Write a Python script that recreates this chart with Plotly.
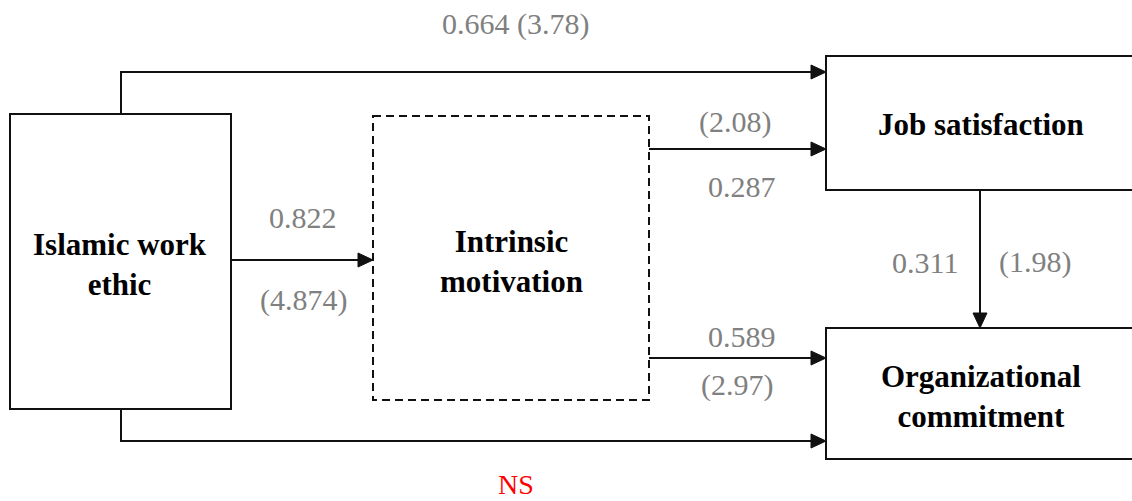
import plotly.graph_objects as go

# ---- data ----
node_labels = ["Islamic work<br>ethic", "Intrinsic<br>motivation", "Job satisfaction", "Organizational<br>commitment"]
path_coefs = ["0.664 (3.78)", "(2.08)", "0.287", "0.822", "(4.874)", "0.311", "(1.98)", "0.589", "(2.97)"]
ns_label = "NS"

# ---- layout geometry (pixels) ----
W, H = 1132, 501
boxes = [  # x0, y0, x1, y1, dashed
    (10, 114, 231, 409, False),
    (373, 116, 649, 400, True),
    (826, 56, 1140, 190, False),
    (826, 328, 1140, 459, False),
]
node_pos = [(120, 264), (511, 261), (981, 124), (981, 396)]
coef_pos = [(515, 24), (735, 122), (742, 186), (303, 217), (303, 300),
            (925, 262), (1035, 262), (742, 336), (737, 385)]
ns_pos = (516, 501)

# polylines ending with an arrowhead
paths = [
    [(121, 114), (121, 72), (826, 72)],
    [(649, 149), (826, 149)],
    [(231, 260), (373, 260)],
    [(980, 190), (980, 328)],
    [(649, 358), (826, 358)],
    [(121, 409), (121, 441), (826, 441)],
]

FONT = "Times New Roman, Liberation Serif, serif"

fig = go.Figure()
shapes = []
LC = "#111111"
for x0, y0, x1, y1, dashed in boxes:
    shapes.append(dict(type="rect", x0=x0, y0=y0, x1=x1, y1=y1,
                       line=dict(color=LC, width=2, dash="8px,5px" if dashed else "solid"),
                       fillcolor="rgba(0,0,0,0)"))

AL, AW = 15, 7
for pts in paths:
    (xa, ya), (xb, yb) = pts[-2], pts[-1]
    if xa == xb:
        d = 1 if yb > ya else -1
        end = (xb, yb - d * AL)
        tri = f"M {xb},{yb} L {xb-AW},{yb-d*AL} L {xb+AW},{yb-d*AL} Z"
    else:
        d = 1 if xb > xa else -1
        end = (xb - d * AL, yb)
        tri = f"M {xb},{yb} L {xb-d*AL},{yb-AW} L {xb-d*AL},{yb+AW} Z"
    line_pts = pts[:-1] + [end]
    p = "M " + " L ".join(f"{x},{y}" for x, y in line_pts)
    shapes.append(dict(type="path", path=p, line=dict(color=LC, width=2)))
    shapes.append(dict(type="path", path=tri, line=dict(color=LC, width=1), fillcolor=LC))

annotations = []
for lab, (x, y) in zip(node_labels, node_pos):
    annotations.append(dict(x=x, y=y, text=f"<b>{lab}</b>", showarrow=False,
                            font=dict(family=FONT, size=31, color="#000000"),
                            xanchor="center", yanchor="middle"))
for lab, (x, y) in zip(path_coefs, coef_pos):
    annotations.append(dict(x=x, y=y, text=lab, showarrow=False,
                            font=dict(family=FONT, size=30, color="#808080"),
                            xanchor="center", yanchor="middle"))
annotations.append(dict(x=ns_pos[0], y=ns_pos[1], text=ns_label, showarrow=False,
                        font=dict(family=FONT, size=28, color="#ff0000"),
                        xanchor="center", yanchor="bottom", borderpad=0))

fig.update_layout(
    width=W, height=H, margin=dict(l=0, r=0, t=0, b=0),
    paper_bgcolor="white", plot_bgcolor="white",
    xaxis=dict(range=[0, W], visible=False, fixedrange=True),
    yaxis=dict(range=[H, 0], visible=False, fixedrange=True),
    shapes=shapes, annotations=annotations, showlegend=False,
)
fig.write_html("out.html", config={"displayModeBar": False},
               post_script="document.body.style.margin='0';document.body.style.overflow='hidden';")
